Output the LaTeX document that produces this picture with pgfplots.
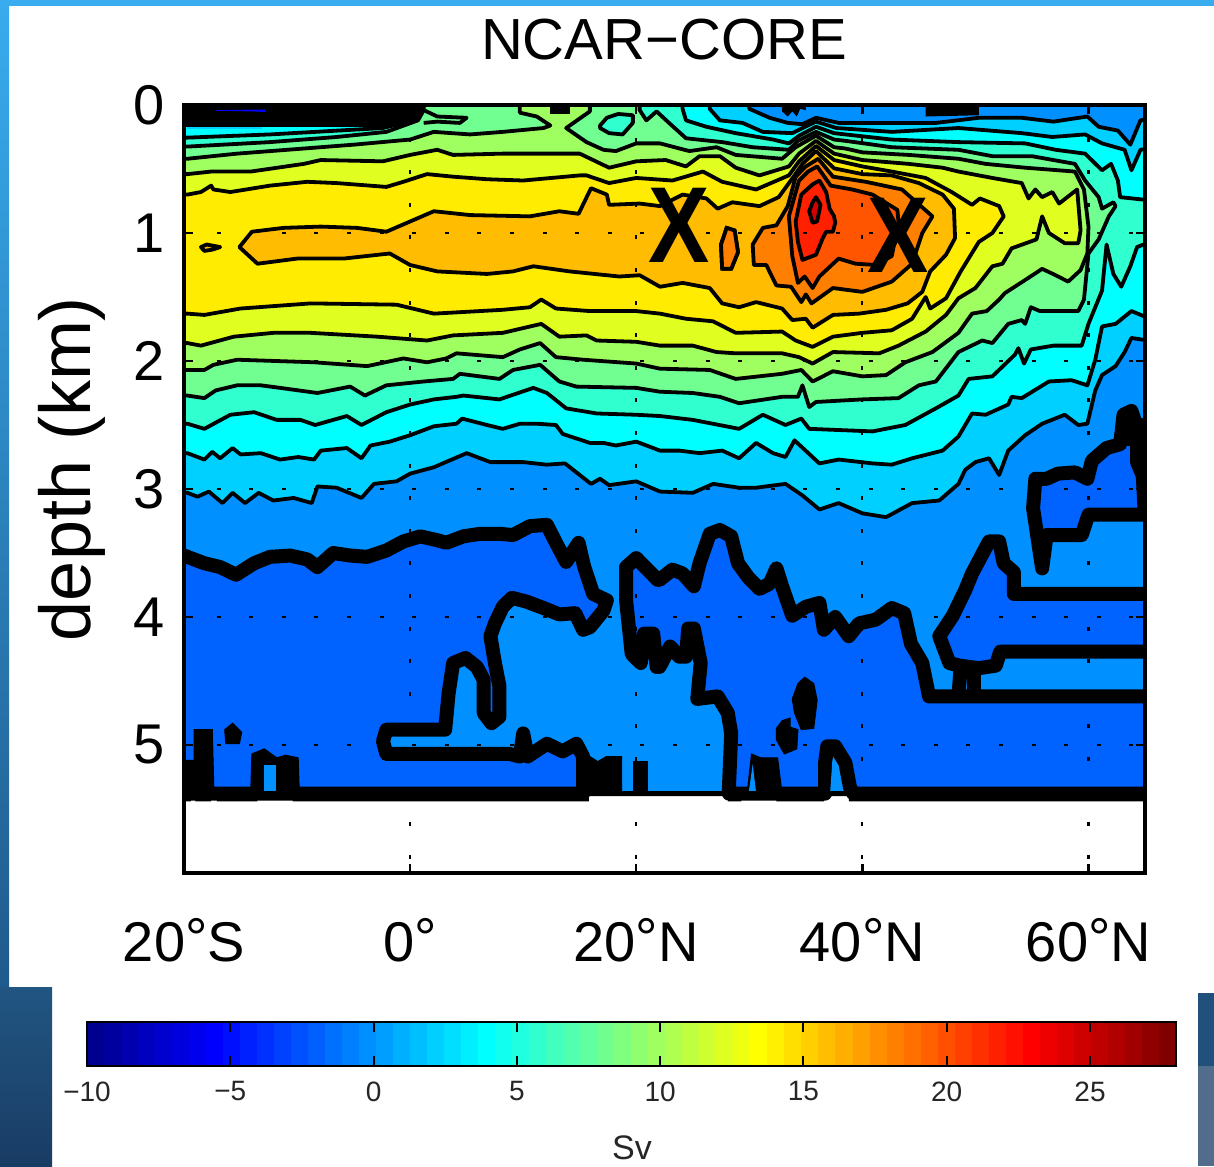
\documentclass[border=0pt]{standalone}
\usepackage{fontspec}
\setmainfont{Liberation Sans}
\usepackage{pgfplots}
\pgfplotsset{compat=1.18}
\definecolor{cd}{RGB}{0,98,255}
\definecolor{c0}{RGB}{0,144,255}
\definecolor{c2}{RGB}{0,208,255}
\definecolor{c4}{RGB}{0,255,255}
\definecolor{c6}{RGB}{48,255,208}
\definecolor{c8}{RGB}{112,255,144}
\definecolor{c10}{RGB}{160,255,96}
\definecolor{c12}{RGB}{224,255,32}
\definecolor{c14}{RGB}{255,236,0}
\definecolor{c16}{RGB}{255,188,0}
\definecolor{c18}{RGB}{255,128,0}
\definecolor{c20}{RGB}{255,84,0}
\definecolor{c22}{RGB}{255,32,0}
\definecolor{c24}{RGB}{210,0,0}
\definecolor{bgl}{RGB}{56,172,238}
\definecolor{bgm}{RGB}{48,145,215}
\definecolor{bgd}{RGB}{32,90,140}
\definecolor{bgA}{RGB}{33,85,130}
\definecolor{bgB}{RGB}{25,60,100}
\definecolor{bgC}{RGB}{82,108,140}
\definecolor{bgE}{RGB}{33,80,125}
\pgfplotsset{colormap={cbjet}{rgb255(0pt)=(0,0,143); rgb255(7pt)=(0,0,255); rgb255(23pt)=(0,255,255); rgb255(39pt)=(255,255,0); rgb255(55pt)=(255,0,0); rgb255(63pt)=(128,0,0)}}
\pgfplotsset{
  lev/.style={fill=#1,draw=black,line width=3.8pt,line join=round},
  thick0/.style={fill=cd,draw=black,line width=14pt,line join=round},
  blob/.style={fill=black,draw=black,line width=1pt},
}
\newcommand{\fs}[1]{\fontsize{#1}{#1}\selectfont}
\newcommand{\dg}{\smash{\raisebox{.08em}{°}}}
\begin{document}
\begin{tikzpicture}[x=1pt,y=1pt]
\path[use as bounding box] (0,0) rectangle (1214,1166);
% page background
\fill[white] (0,0) rectangle (1214,1166);
\fill[bgl] (0,1160) rectangle (1214,1166);
\shade[top color=bgl,middle color=bgm,bottom color=bgd] (0,178) rectangle (9,1166);
\shade[top color=bgA,bottom color=bgB] (0,0) rectangle (52,178);
\fill[bgC] (1198,0) rectangle (1214,100);
\fill[bgE] (1198,100) rectangle (1214,173);

\begin{axis}[
  at={(184pt,293pt)},anchor=south west,
  scale only axis,width=961pt,height=768pt,
  xmin=-20,xmax=65,ymin=0,ymax=6,y dir=reverse,
  xtick={-20,0,20,40,60},
  xticklabels={20\dg S,0\dg,20\dg N,40\dg N,60\dg N},
  ytick={0,1,2,3,4,5},
  yticklabels={0,1,2,3,4,5},
  tick label style={font=\fs{56}},
  xticklabel style={yshift=-46pt},
  yticklabel style={xshift=-16pt},
  tick align=inside,
  major tick length=9pt,
  every tick/.style={black,line width=2.5pt},
  axis line style={line width=3.5pt},
  grid=major,
  major grid style={black,line width=2.2pt,dash pattern=on 4pt off 28.6pt},
  axis on top,
]
% base band 0..2 Sv
\addplot[fill=c0,draw=none] coordinates {(-21,-0.1)(66,-0.1)(66,5.37)(-21,5.37)} -- cycle;

% thick zero contour, western part
\addplot[thick0] coordinates {
(-21,3.52)(-20,3.52)(-18.2,3.58)(-16.8,3.61)(-15.4,3.67)(-13.8,3.58)(-12.4,3.53)(-10.6,3.52)(-9.1,3.55)(-8.2,3.61)(-6.8,3.50)(-5.3,3.52)(-3.8,3.53)(-2.1,3.48)(-0.6,3.41)(0.9,3.37)(2.4,3.40)(3.2,3.42)(4.7,3.37)(6.2,3.35)(7.9,3.35)(9.1,3.36)(10.6,3.29)(12.1,3.28)(12.9,3.42)(13.8,3.57)(14.9,3.42)(15.4,3.61)(16.2,3.82)(17.4,3.87)
(17.1,3.95)(15.9,4.08)(15.3,4.10)(14.6,3.97)(13.2,3.98)(11.8,3.93)(10.3,3.88)(9.0,3.85)(8.2,3.92)(7.5,4.05)(7.1,4.15)(7.5,4.36)(7.9,4.54)(7.9,4.78)(7.2,4.83)(6.5,4.75)(6.5,4.49)(5.9,4.39)(4.9,4.32)(3.8,4.36)(3.4,4.60)(3.1,4.88)(-2.1,4.88)(-2.4,4.97)(-2.1,5.07)(8.8,5.07)(9.7,5.09)(10.0,4.91)(10.4,5.09)(12.1,4.99)(13.5,5.05)(14.7,4.99)(15.3,5.09)(15.3,5.38)(-21,5.38)} -- cycle;
% thick zero contour, central part
\addplot[thick0] coordinates {
(19.1,3.61)(20.0,3.54)(21.9,3.71)(22.06,3.71)(23.2,3.63)(24.1,3.66)(25.1,3.76)(25.6,3.58)(26.5,3.35)(27.4,3.32)(28.4,3.37)(29.0,3.58)(29.9,3.69)(30.9,3.78)(31.8,3.74)(32.4,3.62)(32.9,3.76)(33.8,3.99)(35.0,3.92)(36.2,3.89)(36.6,4.10)(37.6,4.0)(38.8,4.15)(39.7,4.05)(41.2,4.02)(42.6,3.93)(43.7,3.97)(44.3,4.21)(45.3,4.36)(45.9,4.62)(47.1,4.62)(66,4.62)(66,5.38)(39.2,5.38)(38.9,5.33)(38.5,5.14)(37.6,5.01)(36.9,5.01)(36.7,5.14)(36.7,5.38)(28.2,5.38)(28.2,5.33)(28.4,4.91)(28.1,4.75)(27.2,4.62)(25.4,4.64)(25.7,4.36)(25.1,4.09)(24.6,4.09)(24.4,4.31)(23.8,4.31)(23.0,4.23)(22.06,4.39)(21.8,4.39)(21.5,4.13)(20.7,4.13)(20.4,4.36)(19.6,4.29)(19.1,3.87)} -- cycle;
% thick zero contour, eastern pocket
\addplot[thick0] coordinates {
(46.8,4.15)(48.0,3.99)(49.1,3.79)(49.7,3.66)(51.2,3.41)(52.1,3.41)(52.5,3.58)(53.4,3.65)(53.4,3.82)(66,3.82)(66,4.27)(52.2,4.27)(51.8,4.38)(50.3,4.40)(48.6,4.38)(47.7,4.36)} -- cycle;
\addplot[black,line width=14pt] coordinates {(48.7,4.38)(48.5,4.62)};
\addplot[black,line width=14pt] coordinates {(49.9,4.39)(49.9,4.62)};
% thick zero contour, north-eastern pocket
\addplot[thick0] coordinates {
(66,3.20)(60.0,3.20)(59.4,3.36)(56.3,3.36)(55.9,3.62)(55.1,3.15)(55.3,2.92)(56.3,2.92)(57.3,2.88)(58.8,2.87)(59.9,2.92)(60.3,2.78)(61.6,2.68)(62.8,2.65)(63.1,2.42)(63.8,2.39)(64.3,2.52)(64.3,2.79)(66,3.15)} -- cycle;
\addplot[blob] coordinates {(62.6,2.66)(62.8,2.42)(63.2,2.36)(63.9,2.36)(64.2,2.45)(66,2.45)(66,3.2)(64.4,3.2)(64.1,2.66)} -- cycle;

% black blobs where the zero contours crowd
\addplot[blob] coordinates {(-21,5.12)(-19.1,5.12)(-19.1,4.88)(-17.5,4.88)(-17.35,5.38)(-21,5.38)} -- cycle;
\addplot[blob] coordinates {(-16.4,4.88)(-15.7,4.83)(-14.9,4.90)(-15.1,4.99)(-16.3,4.99)} -- cycle;
\addplot[blob] coordinates {(-14.1,5.38)(-14.0,5.07)(-12.9,5.03)(-11.8,5.10)(-11.0,5.08)(-9.9,5.10)(-9.8,5.38)} -- cycle;
\addplot[fill=c0,draw=none] coordinates {(-12.9,5.16)(-11.9,5.16)(-11.9,5.37)(-12.9,5.37)} -- cycle;
\addplot[blob] coordinates {(14.9,5.38)(14.9,5.09)(15.9,5.09)(16.6,5.13)(17.35,5.09)(18.7,5.09)(18.7,5.38)} -- cycle;
\addplot[blob] coordinates {(19.8,5.13)(21.0,5.13)(21.0,5.38)(19.8,5.38)} -- cycle;
\addplot[blob] coordinates {(29.8,5.38)(30.2,5.07)(31.0,5.10)(30.9,5.38)} -- cycle;
\addplot[blob] coordinates {(30.8,5.38)(30.9,5.10)(32.5,5.10)(32.9,5.38)} -- cycle;
\addplot[fill=c0,draw=none] coordinates {(29.95,5.37)(30.3,5.15)(30.6,5.37)} -- cycle;
\addplot[fill=c0,draw=none] coordinates {(37.15,5.37)(37.35,5.12)(37.9,5.37)} -- cycle;
\addplot[blob] coordinates {(34.3,4.52)(34.9,4.47)(35.7,4.52)(36.0,4.65)(35.7,4.87)(34.6,4.88)(34.0,4.75)(33.8,4.64)} -- cycle;
\addplot[blob] coordinates {(32.9,4.81)(33.6,4.79)(33.6,4.86)(34.3,4.88)(34.2,5.03)(33.1,5.07)(32.4,4.96)(32.4,4.87)} -- cycle;
% bottom edge of the section
\addplot[fill=black,draw=none] coordinates {(-21,5.36)(66,5.36)(66,5.44)(38.8,5.44)(38.8,5.40)(36.6,5.40)(36.6,5.44)(32.4,5.44)(32.4,5.40)(29.3,5.40)(29.3,5.44)(28.1,5.44)(28.1,5.40)(15.8,5.40)(15.8,5.44)(15.3,5.44)(15.3,5.40)(15.3,5.44)(-10.4,5.44)(-10.4,5.40)(-13.5,5.40)(-13.5,5.44)(-17.1,5.44)(-17.1,5.40)(-17.6,5.40)(-17.6,5.44)(-19,5.44)(-19,5.40)(-19.4,5.40)(-19.4,5.44)(-21,5.44)} -- cycle;

% level 2
\addplot[lev=c2] coordinates {
(-21,-0.1)(30.0,-0.1)(30.0,0.03)(31.8,0.10)(33.4,0.14)(34.7,0.15)(35.9,0.10)(37.9,0.14)(40.9,0.14)(46.5,0.14)(50.3,0.10)(54.1,0.10)(56.9,0.13)(59.9,0.09)(60.9,0.17)(62.6,0.20)(63.7,0.31)(64.6,0.12)(66,0.10)
(66,1.85)(63.8,1.82)(63.2,1.93)(62.4,2.04)(61.2,2.11)(60.6,2.23)(59.9,2.49)(59.1,2.50)(57.9,2.42)(55.9,2.49)(54.4,2.58)(52.9,2.70)(52.1,2.89)(51.2,2.76)(50.0,2.79)(49.1,2.85)(48.5,2.96)(46.8,3.09)(44.4,3.11)(42.1,3.22)(40.0,3.19)(37.9,3.11)(36.2,3.16)(34.7,3.05)(33.2,2.96)(30.6,2.99)(29.1,2.99)(26.8,2.96)(25.0,3.03)(22.1,3.02)(20.0,2.94)(17.6,2.97)(16.8,2.92)(16.0,2.96)(13.7,2.80)(12.1,2.81)(10.0,2.79)(7.1,2.79)(5.0,2.72)(2.1,2.83)(0,2.88)(-1.2,2.94)(-3.2,2.96)(-4.3,3.07)(-6.5,2.99)(-8.2,2.98)(-8.7,3.11)(-10.3,3.07)(-12.1,3.09)(-13.4,3.03)(-14.6,3.11)(-15.7,3.03)(-16.6,3.11)(-17.8,3.02)(-18.8,3.06)(-19.7,3.03)(-21,3.03)} -- cycle;
% level 4
\addplot[lev=c4] coordinates {
(-21,-0.1)(26.5,-0.1)(26.5,0.03)(27.4,0.12)(29.4,0.14)(31.2,0.21)(33.8,0.22)(34.7,0.18)(35.9,0.13)(37.7,0.18)(42.6,0.21)(48.5,0.18)(54.1,0.22)(56.8,0.25)(59.7,0.23)(61.2,0.30)(63.2,0.35)(63.8,0.51)(64.6,0.35)(66,0.33)
(66,1.69)(63.8,1.61)(62.4,1.71)(61.2,1.73)(60.6,1.99)(59.9,2.19)(58.5,2.15)(56.5,2.16)(54.1,2.29)(53.2,2.28)(52.9,2.34)(50.9,2.42)(49.7,2.41)(48.5,2.59)(47.1,2.70)(44.4,2.76)(42.6,2.81)(40.9,2.80)(37.9,2.77)(36.2,2.80)(34.0,2.62)(33.2,2.75)(32.1,2.72)(30.6,2.64)(29.1,2.76)(27.6,2.70)(25.6,2.72)(23.8,2.70)(22.1,2.70)(20.0,2.63)(18.2,2.66)(17.1,2.64)(15.9,2.64)(13.5,2.57)(12.9,2.50)(11.2,2.49)(9.7,2.49)(8.2,2.53)(6.8,2.50)(4.6,2.45)(4.1,2.49)(2.1,2.51)(0,2.58)(-1.8,2.63)(-3.5,2.66)(-4.3,2.76)(-5.6,2.68)(-7.9,2.70)(-8.5,2.77)(-9.9,2.75)(-11.5,2.77)(-13.2,2.72)(-15.0,2.73)(-15.7,2.68)(-16.8,2.76)(-17.5,2.71)(-18.2,2.77)(-19.7,2.72)(-21,2.72)} -- cycle;
% level 6
\addplot[lev=c6] coordinates {
(-21,0.255)(-19.7,0.255)(-12.4,0.23)(-2.4,0.18)(-0.6,0.14)(0.7,0.10)(1.0,0.04)(1.0,-0.1)(24.1,-0.1)(24.1,0.03)(24.4,0.12)(26.2,0.17)(28.8,0.22)(32.1,0.27)(33.5,0.30)(34.4,0.24)(35.9,0.17)(37.5,0.22)(38.5,0.23)(42.6,0.27)(48.5,0.29)(54.4,0.30)(57.1,0.35)(59.7,0.38)(61.2,0.51)(62.0,0.46)(62.6,0.59)(62.8,0.72)(66,0.75)
(66,1.05)(64.3,1.11)(63.7,1.26)(62.9,1.42)(62.2,1.32)(61.6,1.09)(61.2,1.45)(60.0,1.71)(59.4,1.88)(56.9,1.88)(54.9,1.91)(54.3,2.02)(53.8,1.90)(53.5,1.95)(51.5,2.12)(49.4,2.14)(48.5,2.27)(46.5,2.37)(43.8,2.50)(40.9,2.55)(35.3,2.53)(34.6,2.45)(33.2,2.50)(31.2,2.42)(29.1,2.53)(25.0,2.46)(22.1,2.43)(20.0,2.42)(16.5,2.41)(13.8,2.37)(12.1,2.25)(10.9,2.21)(7.9,2.30)(4.7,2.27)(4.1,2.28)(2.1,2.30)(0,2.34)(-2.1,2.40)(-4.3,2.50)(-5.6,2.43)(-8.4,2.50)(-9.7,2.46)(-11.8,2.46)(-13.8,2.40)(-15.9,2.42)(-18.2,2.53)(-19.7,2.49)(-21,2.49)} -- cycle;
% level 8
\addplot[lev=c8] coordinates {
(-21,0.325)(-19.7,0.325)(-12.4,0.29)(-6.5,0.25)(-2.1,0.21)(0.7,0.12)(1.2,0.04)(1.2,-0.1)(20.3,-0.1)(20.3,0.04)(20.9,0.12)(21.8,0.05)(22.9,0.14)(24.4,0.26)(27.6,0.29)(30.3,0.33)(33.5,0.35)(34.3,0.28)(35.9,0.21)(37.5,0.27)(38.5,0.28)(42.6,0.33)(48.5,0.35)(51.5,0.40)(55.0,0.40)(58.8,0.46)(59.7,0.59)(60.9,0.72)(61.2,0.81)(62.2,0.76)(62.4,0.79)(61.8,0.87)(60.9,1.05)(60.0,1.16)(59.6,1.52)(59.1,1.61)(55.7,1.61)(54.9,1.58)(54.4,1.71)(54.1,1.68)(52.9,1.71)(51.5,1.86)(50.6,1.84)(48.5,1.93)(46.5,2.16)(45.0,2.19)(43.2,2.29)(40.0,2.30)(35.9,2.32)(35.3,2.36)(34.7,2.19)(34.3,2.28)(32.9,2.28)(29.1,2.33)(27.4,2.28)(25.0,2.25)(22.1,2.24)(20.0,2.21)(14.7,2.20)(13.2,2.16)(11.5,2.03)(9.1,2.07)(7.9,2.14)(4.4,2.10)(3.8,2.14)(1.2,2.16)(-2.1,2.19)(-4.0,2.27)(-5.3,2.20)(-8.2,2.25)(-11.5,2.21)(-13.2,2.19)(-15.3,2.19)(-17.2,2.23)(-18.2,2.29)(-19.7,2.27)(-21,2.27)} -- cycle;
% level 8 closed pocket near the surface
\addplot[lev=c6] coordinates {(16.8,0.16)(17.4,0.10)(18.4,0.07)(19.7,0.08)(19.7,0.14)(18.8,0.23)(17.6,0.22)(16.8,0.18)} -- cycle;
\addplot[black,line width=3.8pt,line join=round] coordinates {(1.2,0.04)(2.4,0.09)(5.0,0.10)(4.4,0.14)(2.4,0.13)(1.2,0.14)};
% level 10
\addplot[lev=c10] coordinates {
(-21,0.42)(-19.7,0.42)(-15.3,0.38)(-9.4,0.34)(-5,0.31)(0,0.27)(2.1,0.21)(5.3,0.23)(8.2,0.21)(11.8,0.18)(12.4,0.16)(11.2,0.09)(9.7,0.06)(9.7,-0.1)(15.9,-0.1)(15.9,0.05)(13.8,0.18)(15.6,0.29)(17.1,0.35)(18.2,0.36)(20.0,0.30)(22.1,0.30)(24.7,0.36)(27.1,0.33)(28.8,0.39)(32.9,0.42)(34.1,0.33)(35.9,0.24)(37.5,0.33)(38.5,0.34)(40.0,0.37)(44.1,0.39)(48.5,0.42)(50.9,0.46)(54.4,0.49)(58.8,0.52)(59.6,0.66)(60.0,0.95)(59.9,1.16)(59.3,1.29)(58.2,1.38)(57.1,1.33)(55.9,1.28)(54.7,1.35)(52.6,1.47)(52.1,1.52)(51.0,1.61)(49.7,1.63)(48.5,1.78)(46.2,1.93)(43.8,2.01)(42.1,2.11)(40.0,2.12)(37.4,2.08)(35.6,2.16)(34.6,2.07)(32.9,2.10)(28.8,2.14)(26.5,2.07)(22.1,2.06)(20.0,2.02)(15.3,1.99)(12.9,1.97)(11.5,1.86)(9.7,1.91)(8.2,1.97)(4.1,1.94)(3.2,1.98)(1.5,2.01)(-0.6,1.98)(-3.8,2.04)(-8.5,2.01)(-15.3,1.99)(-17.4,2.03)(-18.2,2.07)(-19.7,2.07)(-21,2.07)} -- cycle;
% level 12
\addplot[lev=c12] coordinates {
(-21,0.54)(-19.7,0.54)(-17.6,0.52)(-14.1,0.52)(-9.4,0.46)(-7.9,0.43)(-2.4,0.44)(0,0.39)(2.4,0.35)(3.8,0.39)(8.2,0.38)(15,0.38)(17.6,0.49)(20,0.44)(22.6,0.43)(24.4,0.48)(25.6,0.40)(27.4,0.40)(28.8,0.49)(30.9,0.55)(33.5,0.48)(34.4,0.38)(35.9,0.28)(37.5,0.38)(40,0.43)(44.1,0.46)(47.1,0.49)(48.5,0.52)(51.5,0.57)(54.1,0.61)(54.7,0.73)(55.3,0.66)(55.9,0.72)(56.8,0.68)(57.4,0.77)(59,0.66)(59.3,0.98)(59.1,1.08)(57.9,1.08)(56.5,1.0)(55.9,0.87)(55.4,1.05)(53.2,1.12)(52.4,1.24)(51.5,1.26)(50,1.43)(48.5,1.51)(47.4,1.64)(45.6,1.77)(43.2,1.88)(41.5,1.94)(37.4,1.93)(35.6,2.02)(34.4,1.97)(32.9,1.94)(28.8,1.94)(27.1,1.93)(25,1.88)(22.1,1.88)(20,1.85)(16.5,1.84)(15.6,1.80)(13.2,1.81)(11.6,1.71)(8.2,1.78)(3.8,1.80)(1.5,1.84)(-2.9,1.81)(-8.8,1.78)(-12.1,1.78)(-15.6,1.81)(-18.5,1.88)(-19.7,1.86)(-21,1.86)} -- cycle;
% level 14
\addplot[lev=c14] coordinates {
(-21,0.70)(-19.7,0.70)(-18.5,0.68)(-17.6,0.63)(-17.4,0.66)(-15.9,0.68)(-12.4,0.63)(-9.1,0.60)(-6.5,0.61)(-2.1,0.64)(-0.6,0.60)(1.5,0.54)(3.8,0.56)(6.8,0.58)(10,0.59)(15,0.55)(15.6,0.55)(17.6,0.61)(20,0.57)(23.2,0.59)(25.9,0.52)(27.6,0.60)(30.6,0.66)(33.5,0.55)(34.4,0.44)(35.9,0.32)(37.5,0.43)(40,0.48)(42.6,0.52)(45.6,0.57)(47.9,0.68)(49.7,0.78)(50.4,0.73)(52.1,0.79)(52.5,0.87)(51.5,1.0)(50.3,1.07)(48.7,1.30)(47.4,1.51)(46,1.59)(45.6,1.50)(44.4,1.67)(42.6,1.76)(40,1.78)(37.4,1.81)(35.6,1.89)(34.1,1.84)(32.9,1.77)(28.8,1.78)(26.8,1.69)(24.4,1.67)(22.1,1.63)(20,1.61)(15.9,1.61)(12.9,1.59)(11.6,1.52)(10.6,1.58)(8.2,1.60)(2.1,1.63)(-1.2,1.56)(-8.8,1.55)(-15,1.59)(-18.2,1.64)(-19.7,1.63)(-21,1.63)} -- cycle;
% level 16
\addplot[lev=c16] coordinates {
(-15.1,1.11)(-14,0.99)(-11.2,0.96)(-7.9,0.95)(-4.7,0.96)(-2.1,0.99)(0,0.91)(2.1,0.83)(5.3,0.86)(10.6,0.87)(13.2,0.83)(14.9,0.85)(16,0.65)(17.4,0.70)(17.6,0.78)(20.3,0.77)(22.1,0.79)(24.1,0.70)(26.2,0.73)(27.2,0.81)(28.5,0.76)(30.9,0.79)(32.6,0.72)(34,0.55)(34.7,0.46)(35.9,0.36)(37.5,0.495)(40,0.54)(42.6,0.55)(45,0.61)(47.1,0.70)(48.1,0.81)(48.2,1.04)(47.4,1.17)(46,1.30)(45.3,1.46)(44,1.55)(42.1,1.60)(39.7,1.63)(37.4,1.64)(35.6,1.74)(35,1.67)(33.8,1.68)(32.9,1.59)(30.6,1.54)(29.1,1.58)(27.6,1.55)(26.5,1.43)(24.1,1.39)(22.1,1.42)(20.3,1.33)(18.5,1.34)(14.1,1.30)(10.9,1.26)(9.1,1.30)(6.8,1.32)(2.4,1.30)(0,1.25)(-1.8,1.16)(-5.9,1.20)(-10,1.20)(-13.5,1.24)} -- cycle;
\addplot[lev=c16] coordinates {(-18.5,1.11)(-18.0,1.09)(-16.8,1.11)(-17.5,1.13)(-18.2,1.14)} -- cycle;
% level 18
\addplot[lev=c18] coordinates {
(36.1,0.42)(37.4,0.56)(40.3,0.60)(43.5,0.66)(46.2,0.87)(45.3,1.0)(44.4,1.24)(42.6,1.38)(40,1.46)(37.4,1.43)(35.5,1.55)(35,1.48)(34.6,1.54)(33.7,1.42)(32.4,1.41)(31.5,1.25)(30.4,1.25)(30.3,1.09)(31.2,0.96)(32.4,0.94)(33.4,0.79)(34.1,0.56)(35,0.48)} -- cycle;
\addplot[lev=c16] coordinates {(27.5,1.09)(28,0.96)(28.7,0.98)(29,1.15)(28.4,1.28)(27.6,1.28)} -- cycle;
\addplot[fill=c18,draw=black,line width=3.8pt] coordinates {(27.5,1.09)(28,0.96)(28.7,0.98)(29,1.15)(28.4,1.28)(27.6,1.28)} -- cycle;
% level 20
\addplot[lev=c20] coordinates {
(36.0,0.48)(37.2,0.63)(39.1,0.66)(40.9,0.70)(43.1,0.82)(43.2,0.92)(42.6,1.18)(41.2,1.25)(39.4,1.24)(37.9,1.20)(36.2,1.34)(35.6,1.43)(34.9,1.34)(34.3,1.39)(33.8,1.18)(33.5,0.87)(34.4,0.59)(35.2,0.52)} -- cycle;
% level 22
\addplot[lev=c22] coordinates {
(36.2,0.59)(36.8,0.68)(37.1,0.81)(37.5,0.87)(37.6,0.92)(37.4,0.99)(36.8,0.99)(36.5,1.04)(35.9,1.17)(34.7,1.21)(34.3,1.07)(34.1,0.91)(34.6,0.70)(35.6,0.62)} -- cycle;
% level 24
\addplot[lev=c24] coordinates {(35.9,0.72)(36.3,0.78)(36,0.91)(35.6,0.92)(35.3,0.83)(35.6,0.76)} -- cycle;

% crowded contours in the western surface layer and small surface patches
\addplot[fill=black,draw=none] coordinates {(-21,-0.1)(1.2,-0.1)(1.2,0.05)(0.74,0.10)(-0.6,0.143)(-2.35,0.17)(-21,0.17)} -- cycle;
\addplot[fill=blue,draw=none] coordinates {(-17.2,0.04)(-12.8,0.035)(-12.8,0.055)(-14,0.05)(-17.2,0.045)} -- cycle;
\addplot[fill=c2,draw=none] coordinates {(-19.7,0.17)(-13.1,0.17)(-13.1,0.187)(-19.7,0.187)} -- cycle;
\addplot[fill=black,draw=none] coordinates {(12.4,-0.1)(14.1,-0.1)(14.1,0.07)(12.4,0.07)} -- cycle;
\addplot[fill=black,draw=none] coordinates {(45.6,-0.1)(50.3,-0.1)(50.3,0.08)(45.6,0.09)} -- cycle;
\addplot[fill=black,draw=none] coordinates {(32.9,-0.1)(35,-0.1)(35,0.04)(34.5,0.03)(34.2,0.09)(33.8,0.05)(33.4,0.09)(32.9,0.05)} -- cycle;

\node[font=\fs{108}\bfseries,xscale=.85] at (axis cs:23.8,0.94) {X};
\node[font=\fs{108}\bfseries,xscale=.85] at (axis cs:43.2,1.02) {X};
\end{axis}

\begin{axis}[
  at={(87pt,100pt)},anchor=south west,
  scale only axis,width=1089pt,height=44pt,
  xmin=-10,xmax=28,ymin=0,ymax=1,
  xtick={-10,-5,0,5,10,15,20,25},
  xticklabels={−10,−5,0,5,10,15,20,25},
  ytick=\empty,
  tick align=inside,
  major tick length=10pt,
  every tick/.style={black,line width=2pt},
  axis line style={line width=2.2pt},
  tick label style={font=\fs{28},text=black!85},
  xticklabel style={yshift=-12pt},
  axis on top,
  colormap name=cbjet,
]
\addplot[surf,shader=flat corner,mesh/cols=65,mesh/rows=2,point meta=x,point meta min=-10,point meta max=27.40625] coordinates {
(-10,0)(-9.40625,0)(-8.8125,0)(-8.21875,0)(-7.625,0)(-7.03125,0)(-6.4375,0)(-5.84375,0)(-5.25,0)(-4.65625,0)(-4.0625,0)(-3.46875,0)(-2.875,0)(-2.28125,0)(-1.6875,0)(-1.09375,0)(-0.5,0)(0.09375,0)(0.6875,0)(1.28125,0)(1.875,0)(2.46875,0)(3.0625,0)(3.65625,0)(4.25,0)(4.84375,0)(5.4375,0)(6.03125,0)(6.625,0)(7.21875,0)(7.8125,0)(8.40625,0)(9,0)(9.59375,0)(10.1875,0)(10.78125,0)(11.375,0)(11.96875,0)(12.5625,0)(13.15625,0)(13.75,0)(14.34375,0)(14.9375,0)(15.53125,0)(16.125,0)(16.71875,0)(17.3125,0)(17.90625,0)(18.5,0)(19.09375,0)(19.6875,0)(20.28125,0)(20.875,0)(21.46875,0)(22.0625,0)(22.65625,0)(23.25,0)(23.84375,0)(24.4375,0)(25.03125,0)(25.625,0)(26.21875,0)(26.8125,0)(27.40625,0)(28,0)
(-10,1)(-9.40625,1)(-8.8125,1)(-8.21875,1)(-7.625,1)(-7.03125,1)(-6.4375,1)(-5.84375,1)(-5.25,1)(-4.65625,1)(-4.0625,1)(-3.46875,1)(-2.875,1)(-2.28125,1)(-1.6875,1)(-1.09375,1)(-0.5,1)(0.09375,1)(0.6875,1)(1.28125,1)(1.875,1)(2.46875,1)(3.0625,1)(3.65625,1)(4.25,1)(4.84375,1)(5.4375,1)(6.03125,1)(6.625,1)(7.21875,1)(7.8125,1)(8.40625,1)(9,1)(9.59375,1)(10.1875,1)(10.78125,1)(11.375,1)(11.96875,1)(12.5625,1)(13.15625,1)(13.75,1)(14.34375,1)(14.9375,1)(15.53125,1)(16.125,1)(16.71875,1)(17.3125,1)(17.90625,1)(18.5,1)(19.09375,1)(19.6875,1)(20.28125,1)(20.875,1)(21.46875,1)(22.0625,1)(22.65625,1)(23.25,1)(23.84375,1)(24.4375,1)(25.03125,1)(25.625,1)(26.21875,1)(26.8125,1)(27.40625,1)(28,1)
};
\end{axis}

\node[font=\fs{58}] at (664,1126) {NCAR−CORE};
\node[font=\fs{72},rotate=90] at (72,697) {depth (km)};
\node[font=\fs{34},text=black!85] at (632,18) {Sv};
\end{tikzpicture}
\end{document}
